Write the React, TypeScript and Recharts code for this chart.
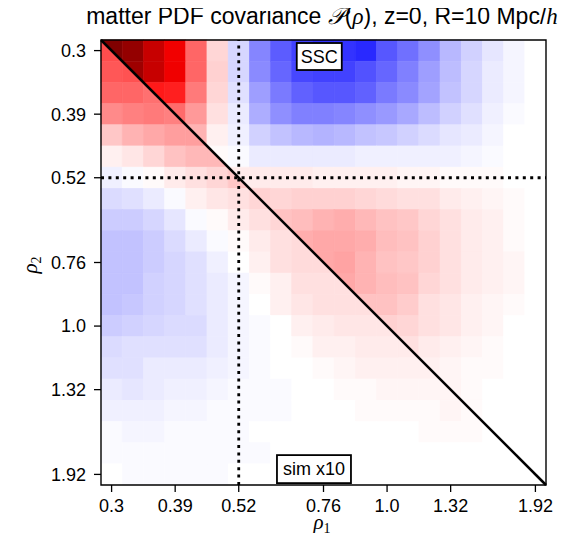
import React from 'react';
import { ScatterChart, XAxis, YAxis, ReferenceArea, ReferenceLine, ReferenceDot } from 'recharts';

// density bins rho_1 / rho_2 (21 log-spaced bins), only some are labelled
const tickIdx = [0, 3, 6, 10, 13, 16, 20];
const tickLabels = ['0.3', '0.39', '0.52', '0.76', '1.0', '1.32', '1.92'];
const markIdx = 6; // rho = 0.52, dotted guides

// SSC prediction, upper triangle: row j holds columns j..20 (in % of colour range)
const sscRows: number[][] = [
  [100, 92, 72, 55, 30, 8, -8, -24, -32, -37, -40, -40, -42, -33, -28, -22, -14, -9, -5, -2, 0],
  [88, 72, 56, 30, 9, -8, -23, -30, -36, -37, -37, -34, -30, -25, -19, -13, -8, -4, -2, 0],
  [45, 44, 26, 8, -6, -19, -26, -31, -33, -33, -31, -26, -23, -18, -12, -8, -4, -2, 0],
  [29, 20, 6, -4, -16, -22, -25, -25, -24, -22, -20, -17, -13, -9, -6, -3, -1, 0],
  [15, 3, -3, -9, -12, -14, -15, -14, -12, -11, -9, -7, -5, -4, -2, 0, 0],
  [1, -1, -4, -4, -4, -4, -4, -3, -3, -3, -3, -3, -2, -1, 0, 0],
  [4, 4, 4, 4, 3, 3, 3, 3, 2, 2, 1, 1, 1, 0, 0],
  [9, 8, 9, 9, 9, 8, 7, 6, 6, 4, 3, 2, 1, 0],
  [12, 13, 15, 16, 14, 12, 11, 8, 6, 4, 3, 1, 0],
  [16, 17, 17, 16, 13, 12, 9, 6, 4, 3, 1, 0],
  [17, 18, 15, 12, 11, 9, 6, 4, 3, 2, 0],
  [17, 15, 13, 12, 8, 6, 4, 3, 2, 0],
  [12, 12, 10, 6, 5, 3, 2, 1, 0],
  [9, 8, 6, 5, 3, 2, 0, 0],
  [6, 4, 3, 2, 1, 0, 0],
  [3, 2, 1, 1, 0, 0],
  [2, 1, 0, 0, 0],
  [1, 0, 0, 0],
  [0, 0, 0],
  [0, 0],
  [0],
];

// simulation covariance x10, lower triangle: row j holds columns 0..j
const simRows: number[][] = [
  [35],
  [33, 34],
  [30, 30, 28],
  [23, 25, 26, 25],
  [11, 15, 17, 19, 19],
  [3, 5, 8, 12, 14, 14],
  [-3, -1, 1, 4, 6, 8, 11],
  [-7, -6, -4, -1, 3, 5, 6, 8],
  [-10, -10, -8, -5, -1, 1, 4, 6, 8],
  [-12, -12, -10, -7, -4, -1, 1, 4, 6, 7],
  [-12, -12, -10, -8, -6, -3, 0, 3, 6, 7, 7],
  [-12, -12, -9, -8, -6, -4, -2, 1, 3, 6, 6, 6],
  [-12, -11, -9, -8, -6, -4, -2, 0, 3, 5, 6, 6, 6],
  [-10, -9, -8, -7, -7, -4, -2, -1, 0, 3, 4, 5, 5, 5],
  [-7, -6, -6, -6, -6, -4, -2, -1, 0, 1, 3, 3, 4, 4, 4],
  [-6, -6, -4, -4, -4, -3, -2, -1, 0, 0, 1, 2, 3, 3, 3, 3],
  [-4, -5, -4, -3, -3, -2, -1, -1, -1, 0, 0, 1, 1, 2, 2, 2, 2],
  [-3, -3, -3, -2, -2, -1, -1, -1, -1, 0, 0, 0, 1, 1, 1, 1, 2, 1],
  [-1, -2, -2, -1, -1, -1, -1, 0, 0, 0, 0, 0, 0, 0, 0, 1, 1, 1, 0],
  [-1, -1, -1, -1, -1, -1, -1, -1, 0, 0, 0, 0, 0, 0, 0, 0, 0, 0, 0, 0],
  [0, -1, -1, -1, -1, -1, 0, 0, 0, 0, 0, 0, 0, 0, 0, 0, 0, 0, 0, 0, 0],
];

const W = 553;
const H = 525;
const LO = -0.5;
const HI = tickIdx[tickIdx.length - 1] + 0.5;

// matplotlib "seismic"
function seismic(v: number): string {
  const t = Math.max(-1, Math.min(1, v));
  let r = 1, g = 1, b = 1;
  if (t <= -0.5) { r = 0; g = 0; b = 0.3 + ((t + 1) / 0.5) * 0.7; }
  else if (t <= 0) { const s = (t + 0.5) / 0.5; r = s; g = s; b = 1; }
  else if (t <= 0.5) { const s = t / 0.5; r = 1; g = 1 - s; b = 1 - s; }
  else { r = 1 - (t - 0.5); g = 0; b = 0; }
  return `rgb(${Math.round(r * 255)},${Math.round(g * 255)},${Math.round(b * 255)})`;
}

type Cell = { i: number; j: number; v: number; part: 'full' | 'upper' | 'lower' };
const cells: Cell[] = [];
sscRows.forEach((row, j) => row.forEach((v, k) => {
  const i = j + k;
  cells.push({ i, j, v, part: i === j ? 'upper' : 'full' });
}));
simRows.forEach((row, j) => row.forEach((v, i) => {
  cells.push({ i, j, v, part: i === j ? 'lower' : 'full' });
}));

const cellShape = (part: string) => (props: any) => {
  const { x, y, width, height, fill } = props;
  const x0 = Math.min(x, x + width), x1 = Math.max(x, x + width);
  const y0 = Math.min(y, y + height), y1 = Math.max(y, y + height);
  if (part === 'full') {
    return <rect x={x0} y={y0} width={x1 - x0} height={y1 - y0} fill={fill} stroke={fill} strokeWidth={0.6} />;
  }
  const pts = part === 'upper'
    ? `${x0},${y0} ${x1},${y0} ${x1},${y1}`
    : `${x0},${y0} ${x0},${y1} ${x1},${y1}`;
  return <polygon points={pts} fill={fill} stroke={fill} strokeWidth={0.6} />;
};

const textBox = (text: string, w: number, h: number) => (props: any) => {
  const { cx, cy } = props;
  return (
    <g>
      <rect x={cx - w / 2} y={cy - h / 2} width={w} height={h} fill="#fff" stroke="#000" strokeWidth={1.8} />
      <text x={cx} y={cy + 6} textAnchor="middle" fontSize={18} fontFamily='"Liberation Sans", sans-serif' fill="#000">
        {text}
      </text>
    </g>
  );
};

const tickFmt = (v: number) => tickLabels[tickIdx.indexOf(v)] ?? '';
const tickStyle = { fill: '#000', fontSize: 18, fontFamily: '"Liberation Sans", sans-serif' };
const mathFont = '"Liberation Serif", "DejaVu Serif", serif';

export default function App() {
  return (
    <div style={{ position: 'relative', width: W, height: H, fontFamily: '"Liberation Sans", sans-serif', color: '#000' }}>
      <div style={{ position: 'absolute', left: 314, top: -4, transform: 'translateX(-50%)', whiteSpace: 'nowrap', fontSize: 23, lineHeight: '24px' }}>
        matter PDF covariance <span style={{ fontFamily: mathFont, fontStyle: 'italic' }}>𝒫</span>(<span style={{ fontFamily: mathFont, fontStyle: 'italic' }}>ρ</span>), z=0, R=10 Mpc/<span style={{ fontFamily: mathFont, fontStyle: 'italic' }}>h</span>
      </div>
      <svg width={W} height={H + 8} style={{ position: 'absolute', left: 0, top: 0, pointerEvents: 'none', zIndex: 2 }}>
        <text x={314} y={521} textAnchor="middle" fontFamily={mathFont} fontSize={21} fill="#000">
          <tspan fontStyle="italic">ρ</tspan>
          <tspan fontSize={14} dy={4}>1</tspan>
        </text>
        <text x={29} y={257} textAnchor="middle" fontFamily={mathFont} fontSize={21} fill="#000" transform="rotate(-90, 29, 257)">
          <tspan fontStyle="italic">ρ</tspan>
          <tspan fontSize={14} dy={4}>2</tspan>
        </text>
      </svg>
      <ScatterChart width={W} height={H} margin={{ top: 32, right: 15, bottom: 8, left: 33 }}>
        <XAxis
          type="number"
          dataKey="x"
          domain={[LO, HI]}
          ticks={tickIdx}
          interval={0}
          tickFormatter={tickFmt}
          allowDataOverflow
          axisLine={false}
          tickSize={7}
          tickMargin={7}
          tickLine={{ stroke: '#000', strokeWidth: 1.3 }}
          tick={tickStyle}
          height={40}
        />
        <YAxis
          type="number"
          dataKey="y"
          domain={[LO, HI]}
          reversed
          ticks={tickIdx}
          interval={0}
          tickFormatter={tickFmt}
          allowDataOverflow
          axisLine={false}
          tickSize={7}
          tickMargin={8}
          tickLine={{ stroke: '#000', strokeWidth: 1.3 }}
          tick={tickStyle}
          width={60}
        />
        {cells.map((c) => (
          <ReferenceArea
            key={`${c.part}-${c.i}-${c.j}`}
            x1={c.i - 0.5}
            x2={c.i + 0.5}
            y1={c.j - 0.5}
            y2={c.j + 0.5}
            fill={seismic(c.v / 100)}
            fillOpacity={1}
            shape={cellShape(c.part)}
          />
        ))}
        <ReferenceArea x1={LO} x2={HI} y1={LO} y2={HI} fill="none" fillOpacity={0} stroke="#000" strokeWidth={1.4} />
        <ReferenceLine x={markIdx} stroke="#000" strokeWidth={2.8} strokeDasharray="3 4.4" />
        <ReferenceLine y={markIdx} stroke="#000" strokeWidth={2.8} strokeDasharray="3 4.4" />
        <ReferenceLine segment={[{ x: LO, y: LO }, { x: HI, y: HI }]} stroke="#000" strokeWidth={2.5} />
        <ReferenceDot x={9.8} y={0.28} r={1} shape={textBox('SSC', 45, 27)} />
        <ReferenceDot x={9.55} y={19.75} r={1} shape={textBox('sim x10', 74, 28)} />
      </ScatterChart>
    </div>
  );
}
